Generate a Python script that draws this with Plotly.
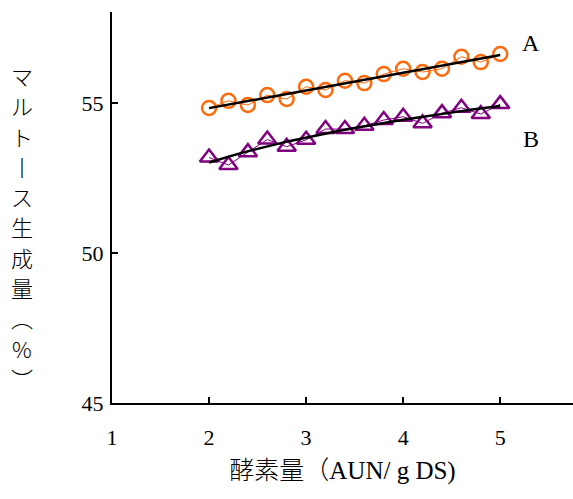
import numpy as np
import plotly.graph_objects as go

x_vals = [2.0, 2.2, 2.4, 2.6, 2.8, 3.0, 3.2, 3.4, 3.6, 3.8, 4.0, 4.2, 4.4, 4.6, 4.8, 5.0]
series_a = [54.83, 55.07, 54.93, 55.26, 55.13, 55.54, 55.43, 55.74, 55.66, 55.96,
            56.14, 56.03, 56.14, 56.54, 56.36, 56.63]
series_b = [53.18, 52.93, 53.36, 53.78, 53.54, 53.77, 54.13, 54.13, 54.24, 54.43,
            54.54, 54.32, 54.66, 54.84, 54.63, 54.96]
x_ticks = [1, 2, 3, 4, 5]
y_ticks = [45, 50, 55]
y_title_chars = ["マ", "ル", "ト", "丨", "ス", "生", "成", "量", "︵", "%", "︶"]
x_title = "酵素量（AUN/ g DS)"

xa = np.array(x_vals)
# regression lines
ca = np.polyfit(xa, series_a, 1)
cb = np.polyfit(np.log(xa), series_b, 1)
xf = np.linspace(2, 5, 40)
fit_a = np.polyval(ca, xf)
fit_b = np.polyval(cb, np.log(xf))

SERIF = "Liberation Serif, Noto Sans CJK JP, serif"
ORANGE = "#ff6a0d"
PURPLE = "#800080"

fig = go.Figure()
fig.add_trace(go.Scatter(x=x_vals, y=series_a, mode="lines+markers",
                         line=dict(color=ORANGE, width=1),
                         marker=dict(symbol="circle-open", size=14, color=ORANGE,
                                     line=dict(width=2.5, color=ORANGE))))
fig.add_trace(go.Scatter(x=x_vals, y=series_b, mode="lines+markers",
                         line=dict(color=PURPLE, width=1),
                         marker=dict(symbol="triangle-up-open", size=16, color=PURPLE,
                                     line=dict(width=2.5, color=PURPLE))))
fig.add_trace(go.Scatter(x=xf, y=fit_a, mode="lines", line=dict(color="black", width=2.5)))
fig.add_trace(go.Scatter(x=xf, y=fit_b, mode="lines", line=dict(color="black", width=2.5)))

fig.add_annotation(x=5.32, y=57.0, text="A", showarrow=False,
                   font=dict(family=SERIF, size=24, color="black"))
fig.add_annotation(x=5.32, y=53.8, text="B", showarrow=False,
                   font=dict(family=SERIF, size=24, color="black"))

for i, ch in enumerate(y_title_chars):
    fig.add_annotation(xref="paper", yref="paper", x=-0.195, y=1.0 - (75 - 12 + i * 30.3) / 391,
                       text=ch, showarrow=False, xanchor="center", yanchor="middle",
                       font=dict(family="Noto Sans CJK JP", size=22, color="black", weight=300))

fig.update_layout(
    width=573, height=499,
    margin=dict(l=112, r=0, t=12, b=96),
    paper_bgcolor="white", plot_bgcolor="white",
    showlegend=False,
    font=dict(family=SERIF, color="black"),
    xaxis=dict(range=[1, 5.75], tickvals=x_ticks, ticks="inside", ticklen=6, tickwidth=2,
               tickcolor="black", showline=True, linecolor="black", linewidth=2,
               showgrid=False, zeroline=False, tickfont=dict(family=SERIF, size=22),
               ticklabelstandoff=14,
               title=dict(text=x_title, font=dict(family=SERIF, size=25, weight=300), standoff=12)),
    yaxis=dict(range=[45, 58.03], tickvals=y_ticks, ticks="inside", ticklen=6, tickwidth=2,
               tickcolor="black", showline=True, linecolor="black", linewidth=2,
               showgrid=False, zeroline=False, tickfont=dict(family=SERIF, size=22),
               ticklabelstandoff=2),
)

fig.write_html("out.html")
